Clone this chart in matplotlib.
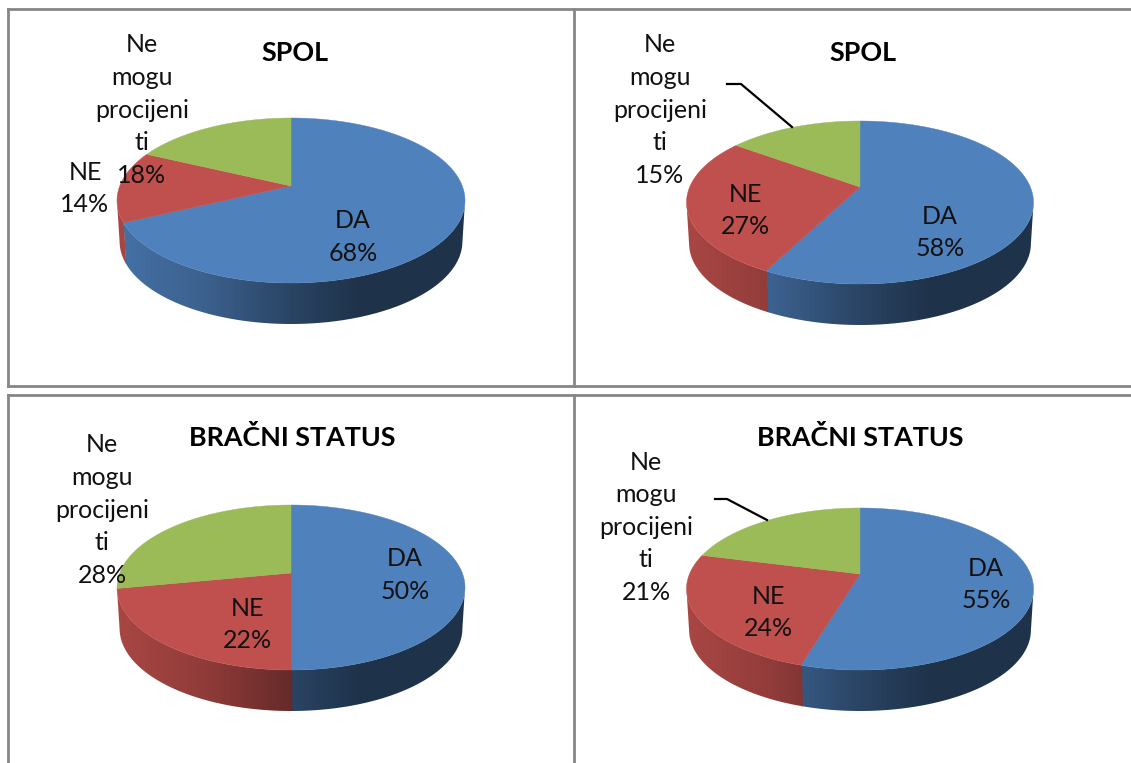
import numpy as np
import matplotlib
matplotlib.use('Agg')
import matplotlib.pyplot as plt
from matplotlib.patches import Polygon

plt.rcParams['font.family'] = ['Lato', 'DejaVu Sans']

# values in percent, one list per pie: DA, NE, Ne mogu procijeniti
categories = ['DA', 'NE', 'Ne\nmogu\nprocijeni\nti']
titles = ['SPOL', 'SPOL', 'BRAČNI STATUS', 'BRAČNI STATUS']
spol_a = [68, 14, 18]
spol_b = [57.6, 27.4, 15]
status_a = [50, 22, 28]
status_b = [54.6, 24.4, 21]
colors = ['#4F81BD', '#C0504D', '#9BBB59']

TEXT_COLOR = '#111111'
BORDER = '#868686'
FONT_SIZE = 18
TITLE_SIZE = 19.4


def perspective(box):
    cx, top, apex, bottom, rx = box
    c = (2 * apex - top - bottom) / (top - bottom)
    a = top * (1 + c) - apex
    return a, c


def project(theta, box):
    # perspective view of the unit circle, gives pixel x, y
    cx, top, apex, bottom, rx = box
    a, c = perspective(box)
    u, v = np.cos(theta), np.sin(theta)
    w = c * v + 1
    return cx + rx * np.sqrt(1 - c ** 2) * u / w, (a * v + apex) / w


def side_gradient(color, cx, rx, xs):
    # the side of the pie gets darker towards the right
    rel_x = (xs - cx) / rx
    factor = np.interp(rel_x, [-1, -0.5, 0, 0.4, 1], [0.88, 0.75, 0.53, 0.39, 0.39])
    return np.array(matplotlib.colors.to_rgb(color)) * factor[:, None]


def draw_pie(ax, values, box, depth=41):
    cx, top, apex, bottom, rx = box
    a, c = perspective(box)
    start = np.pi / 2
    for val, col in zip(values, colors):
        end = start - 2 * np.pi * val / 100
        theta = np.linspace(start, end, max(int(val * 4), 8))
        x, y = project(theta, box)

        # side, only where the rim is in front of the widest point of the ellipse
        # start a bit early so no white seam shows between two slices
        side_theta = np.linspace(start + 0.006, end, max(int(val * 4), 8))
        side_theta = side_theta[np.sin(side_theta) <= -c]
        if len(side_theta) > 1:
            fx, fy = project(side_theta, box)
            low_x = cx + (fx - cx) * 0.985
            outline = np.column_stack([np.append(fx, low_x[::-1]),
                                       np.append(fy, (fy + depth)[::-1])])
            xs = np.linspace(cx - rx, cx + rx, 256)
            im = ax.imshow(side_gradient(col, cx, rx, xs)[None, :, :], aspect='auto',
                           extent=(cx - rx, cx + rx, bottom + depth + 5, top),
                           interpolation='bilinear', zorder=2)
            im.set_clip_path(Polygon(outline, closed=True, transform=ax.transData))

        ax.fill(np.append(x, cx), np.append(y, apex), facecolor=col, edgecolor=col,
                linewidth=0.3, zorder=3)
        start = end


fig = plt.figure(figsize=(11.31, 7.63), dpi=100)
ax = fig.add_axes([0, 0, 1, 1])
ax.axis('off')

# frames around the four charts
for xs, ys in [([8, 1131], [9, 9]), ([8, 1131], [386, 386]), ([8, 1131], [394.5, 394.5]),
               ([8, 8], [9, 386]), ([8, 8], [394.5, 763]),
               ([574, 574], [9, 386]), ([574, 574], [394.5, 763])]:
    ax.plot(xs, ys, color=BORDER, linewidth=2, solid_capstyle='projecting', zorder=1)

all_values = [spol_a, spol_b, status_a, status_b]
boxes = [(291, 118, 186, 283, 174), (860, 121, 187, 284, 173.5),
         (291, 505, 573, 670, 174), (860, 508, 574, 670, 173.5)]
title_pos = [(295, 52), (863, 52), (292, 437), (860, 437)]
# centre x and y of the first text line, for DA, NE and the third category
label_pos = [[(353, 221), (85, 172), (142, 45)],
             [(940, 216), (745, 194), (660, 45)],
             [(405, 559), (247, 608), (102, 445)],
             [(986, 568), (768, 596), (646, 462)]]
leaders = {1: ([727, 741, 792], [84, 84, 127]), 3: ([715, 727, 767], [499, 499, 520])}
LINE_STEP = 32.6

for n, values in enumerate(all_values):
    draw_pie(ax, values, boxes[n])
    ax.text(title_pos[n][0], title_pos[n][1] + 1, titles[n], ha='center', va='center',
            fontsize=TITLE_SIZE, fontweight='bold', color='black', zorder=5)
    for cat, val, pos in zip(categories, values, label_pos[n]):
        lines = cat.split('\n') + ['%.0f%%' % val]
        for k, line in enumerate(lines):
            ax.text(pos[0], pos[1] + k * LINE_STEP, line, ha='center', va='center',
                    fontsize=FONT_SIZE, color=TEXT_COLOR, zorder=5)
    if n in leaders:
        ax.plot(leaders[n][0], leaders[n][1], color='black', linewidth=1.6, zorder=4)

ax.set_xlim(0, 1131)
ax.set_ylim(763, 0)

fig.savefig('out.png', dpi=100)
